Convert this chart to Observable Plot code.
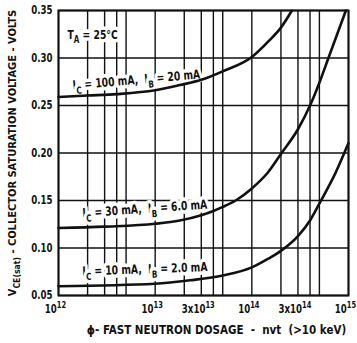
<!DOCTYPE html>
<html>
<head>
<meta charset="utf-8">
<script src="https://cdn.jsdelivr.net/npm/d3@7"></script>
<script src="https://cdn.jsdelivr.net/npm/@observablehq/plot@0.6"></script>
<style>
  html, body { margin: 0; padding: 0; background: #fff; }
</style>
</head>
<body>
<div id="chart"></div>
<script>
// Collector saturation voltage vs. fast neutron dosage, three bias conditions
const dose100 = [1e12, 2e12, 4e12, 1e13, 1.8e13, 3e13, 5e13, 1e14, 1.5e14, 2e14, 2.6e14];
const vce100  = [0.259, 0.2605, 0.262, 0.266, 0.2715, 0.277, 0.286, 0.301, 0.318, 0.332, 0.350];

const dose30 = [1e12, 3e12, 1e13, 1.8e13, 3e13, 4e13, 5e13, 6.8e13, 1e14, 1.48e14, 2e14, 3e14, 4e14, 5e14, 6.2e14, 9.4e14];
const vce30  = [0.121, 0.1225, 0.1255, 0.129, 0.1345, 0.139, 0.1433, 0.150, 0.1627, 0.180, 0.199, 0.225, 0.250, 0.274, 0.300, 0.350];

const dose10 = [1e12, 1e13, 2.3e13, 5e13, 1e14, 1.48e14, 2e14, 3e14, 4e14, 5.2e14, 7.3e14, 1e15];
const vce10  = [0.0598, 0.0624, 0.066, 0.071, 0.0796, 0.0888, 0.097, 0.1125, 0.129, 0.150, 0.1786, 0.2105];

const seriesNames = ["100 mA", "30 mA", "10 mA"];

// Grid and tick values
const gridDoses = [1e12, 2e12, 3e12, 4e12, 5e12, 1e13, 2e13, 3e13, 4e13, 5e13,
                   1e14, 2e14, 3e14, 4e14, 5e14, 1e15];
const yTicks = [0.05, 0.10, 0.15, 0.20, 0.25, 0.30, 0.35];
const xTicks = [1e12, 1e13, 3e13, 1e14, 3e14, 1e15];
const xTickLabels = ["10^{12}", "10^{13}", "3x10^{13}", "10^{14}", "3x10^{14}", "10^{15}"];

// Curve annotations
const labelText = [
  "T_{A} = 25°C",
  "I_{C} = 100 mA,  I_{B} = 20 mA",
  "I_{C} = 30 mA,  I_{B} = 6.0 mA",
  "I_{C} = 10 mA,  I_{B} = 2.0 mA"
];

const curves = [
  ...dose100.map((d, i) => ({series: seriesNames[0], dose: d, vce: vce100[i]})),
  ...dose30.map((d, i) => ({series: seriesNames[1], dose: d, vce: vce30[i]})),
  ...dose10.map((d, i) => ({series: seriesNames[2], dose: d, vce: vce10[i]}))
];

const annotations = [
  {text: labelText[0], dose: 1.24e12, vce: 0.3246, angle: 0},
  {text: labelText[1], dose: 1.40e12, vce: 0.2710, angle: -5},
  {text: labelText[2], dose: 1.77e12, vce: 0.1366, angle: -4},
  {text: labelText[3], dose: 1.77e12, vce: 0.0753, angle: -2}
];

const tickLabel = new Map(xTicks.map((d, i) => [d, xTickLabels[i]]));
const yFormat = d3.format(".2f");
const FONT = "'Liberation Sans Narrow', 'DejaVu Sans Condensed', 'Arial Narrow', sans-serif";
const INK = "#111";

const chart = Plot.plot({
  width: 357,
  height: 343,
  marginLeft: 58,
  marginRight: 9,
  marginTop: 10,
  marginBottom: 48,
  style: {fontFamily: FONT, fontWeight: "bold", fontSize: "11px", color: INK, background: "#fff"},
  x: {type: "log", domain: [1e12, 1e15]},
  y: {domain: [0.05, 0.35]},
  marks: [
    Plot.ruleX(gridDoses, {stroke: INK, strokeWidth: 1.4}),
    Plot.ruleY(yTicks, {stroke: INK, strokeWidth: 1.4}),
    Plot.text(annotations, {
      x: "dose", y: "vce", text: "text", rotate: "angle",
      textAnchor: "start", lineAnchor: "middle",
      fontSize: 12.5, fill: INK, stroke: "white", strokeWidth: 7
    }),
    Plot.line(curves, {
      x: "dose", y: "vce", z: "series", curve: "monotone-x",
      stroke: INK, strokeWidth: 2.6
    }),
    Plot.frame({stroke: INK, strokeWidth: 2}),
    Plot.axisY({
      ticks: yTicks, tickSize: 0, tickPadding: 6,
      tickFormat: yFormat, label: null, fontSize: 12
    }),
    Plot.axisX({
      ticks: xTicks, tickSize: 0, tickPadding: 9, dx: -3,
      tickFormat: (d) => tickLabel.get(d), label: null, fontSize: 12
    }),
    Plot.text(["V_{CE(sat)} - COLLECTOR SATURATION VOLTAGE - VOLTS"], {
      frameAnchor: "left", dx: -46, rotate: -90,
      textAnchor: "middle", fontSize: 11, fill: INK
    }),
    Plot.text(["ϕ- FAST NEUTRON DOSAGE  -  nvt  (>10 keV)"], {
      frameAnchor: "bottom", dx: 13, dy: 38,
      textAnchor: "middle", fontSize: 11.5, fill: INK
    })
  ]
});

// Narrow the lettering horizontally about each text's own anchor
function condense(svg, strings, k) {
  const wanted = new Set(strings);
  d3.select(svg).selectAll("text").each(function() {
    if (!wanted.has(this.textContent)) return;
    const x = +this.getAttribute("x") || 0;
    const y = +this.getAttribute("y") || 0;
    const t = this.getAttribute("transform") || "";
    this.setAttribute("transform",
      `${t} translate(${x},${y}) scale(${k},1) translate(${-x},${-y})`);
  });
}

// Render _{...} and ^{...} as sub/superscript tspans
function applyScripts(svg) {
  d3.select(svg).selectAll("text").each(function() {
    const s = this.textContent;
    if (!/[_^]\{/.test(s)) return;
    const size = parseFloat(getComputedStyle(this).fontSize) || 11;
    const el = d3.select(this);
    el.text(null);
    let off = 0, last = 0, m;
    const re = /([_^])\{([^}]*)\}/g;
    const add = (t, target, small) => {
      const ts = el.append("tspan").text(t);
      const dy = target - off;
      if (dy) ts.attr("dy", dy);
      if (small) ts.attr("font-size", small);
      off = target;
    };
    while ((m = re.exec(s))) {
      if (m.index > last) add(s.slice(last, m.index), 0, null);
      add(m[2], m[1] === "_" ? size * 0.38 : -size * 0.45, size * 0.78);
      last = re.lastIndex;
    }
    if (last < s.length) add(s.slice(last), 0, null);
  });
}

document.getElementById("chart").appendChild(chart);
condense(chart, labelText, 0.82);
condense(chart, yTicks.map(yFormat), 0.8);
condense(chart, xTickLabels, 0.8);
applyScripts(chart);
</script>
</body>
</html>
